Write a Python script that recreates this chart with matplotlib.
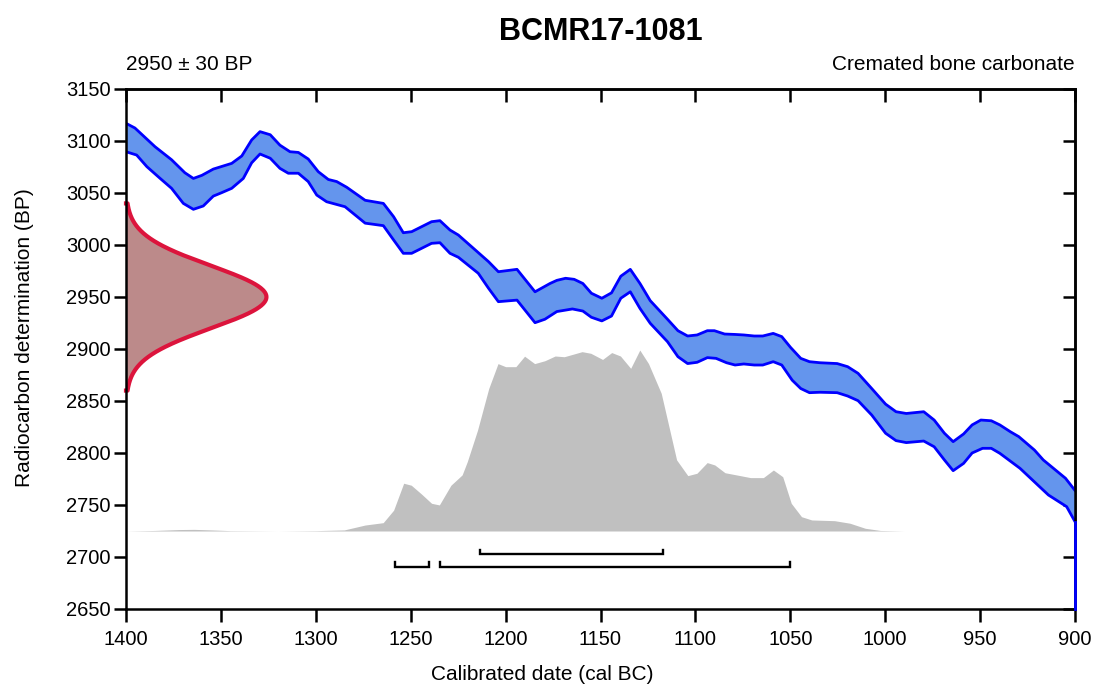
import numpy as np
import matplotlib
matplotlib.use("Agg")
import matplotlib.pyplot as plt

plt.rcParams['font.family'] = ['Liberation Sans', 'DejaVu Sans']

# ---------------- data ----------------
title = "BCMR17-1081"
date_label = "2950 \u00b1 30 BP"
material = "Cremated bone carbonate"
c14_mean = 2950
c14_sigma = 30

# calibration curve envelope (cal BC, BP)
upper_years = [1400, 1395.3, 1384.7, 1376, 1369, 1364.5, 1360, 1354, 1344.3, 1339, 1333.8, 1329.4,
               1324, 1318.9, 1313.6, 1309.2, 1304, 1298.7, 1293.4, 1289, 1283.7, 1274, 1264.4, 1259,
               1253.9, 1249.5, 1239, 1234.6, 1229.3, 1224.9, 1209, 1203.8, 1194, 1184.5, 1176.6, 1173,
               1168.4, 1163.9, 1159.3, 1154.8, 1149.3, 1144.2, 1139.3, 1134.3, 1129.2, 1123.8, 1114.7,
               1109.2, 1104.1, 1099.1, 1093.7, 1090, 1084.6, 1079.1, 1074.5, 1069, 1064.5, 1059, 1054.5,
               1049.9, 1044.5, 1039.9, 1034.4, 1025.3, 1019.8, 1014.3, 1007.1, 999.8, 994.3, 988.9,
               979.7, 974.2, 968.8, 964.2, 958.7, 954.2, 949.6, 944.1, 939.6, 934.1, 929.6, 921.4,
               916.7, 905, 900]
upper_bp = [3117, 3112.5, 3094.5, 3082, 3069.5, 3064, 3067, 3073, 3078.5, 3085.6, 3101, 3109,
            3106, 3096, 3089.7, 3089, 3082.7, 3070.5, 3063, 3061, 3055.5, 3043, 3040, 3027.2,
            3011.8, 3012.8, 3022.4, 3023.4, 3014.4, 3009.6, 2984, 2974.3, 2976.6, 2955, 2963, 2966,
            2968, 2967, 2963, 2953.6, 2948.8, 2954, 2970, 2976.6, 2963, 2946.5, 2928.6,
            2917.6, 2912.5, 2913.5, 2917.6, 2917.6, 2914.4, 2914, 2913.5, 2912.5, 2912.5, 2915, 2911.9,
            2901.6, 2891, 2887.8, 2886.8, 2886, 2883, 2876.6, 2862, 2847, 2839.7, 2838,
            2839.7, 2831.7, 2819, 2810.9, 2818.3, 2827, 2831.7, 2831, 2827, 2820.5, 2815.7, 2802.9,
            2793.3, 2775.7, 2764]

lower_years = [1400, 1394.4, 1389, 1382, 1376, 1369.8, 1364.5, 1359.3, 1354, 1349.6, 1344.3, 1338.2,
               1333.8, 1329.4, 1324, 1318.9, 1314.5, 1309.2, 1304, 1299.5, 1294.3, 1284.6, 1274,
               1264.4, 1259, 1253.9, 1249.5, 1239, 1234.6, 1229.3, 1224.9, 1214.4, 1209, 1203.8, 1194,
               1184.5, 1179.3, 1173, 1164.8, 1159.3, 1154.8, 1149.3, 1144.2, 1139.3, 1134.3, 1129.2,
               1123.8, 1114.7, 1109.2, 1104.1, 1099.1, 1093.7, 1089.1, 1083.6, 1079.1, 1074.5, 1069,
               1064.5, 1059, 1054.5, 1049, 1044.5, 1039.9, 1034.4, 1025.3, 1019.8, 1014.3, 1007.1,
               999.8, 994.3, 988.9, 979.7, 974.2, 968.8, 964.2, 958.7, 954.2, 948.7, 944.1, 939.6,
               929, 914, 904.4, 900]
lower_bp = [3089.7, 3086.5, 3075.3, 3064, 3054.5, 3040, 3034.3, 3037.5, 3047, 3050.3, 3054.5, 3064,
            3079, 3087.5, 3083.4, 3073.7, 3069, 3069, 3061, 3048, 3041.6, 3036.8, 3021,
            3018.6, 3004.8, 2992, 2992, 3001.6, 3002.2, 2992, 2988.2, 2972.8, 2958.4, 2945.5, 2947,
            2925.3, 2928.6, 2936, 2938.5, 2936.5, 2930.5, 2927, 2931.7, 2948.8, 2955, 2939,
            2924.7, 2907, 2892.6, 2886, 2887.2, 2891.7, 2891, 2886.8, 2884.6, 2885.6, 2884.6,
            2884.6, 2887.8, 2884.6, 2870, 2862, 2858, 2858.4, 2858, 2854.8, 2850.3, 2836.5,
            2819, 2811.9, 2810, 2811.5, 2806, 2793.3, 2783, 2790, 2800, 2804.5, 2804.5, 2799.7,
            2785.3, 2759.6, 2748.4, 2734]

# calibrated probability distribution (cal BC, relative probability)
prob_years = [1400, 1385, 1372, 1364, 1355, 1345, 1320, 1300, 1285, 1274, 1264.5, 1259, 1253.7,
              1249.7, 1244.4, 1239, 1234.9, 1228.8, 1222.9, 1220.2, 1214.8, 1208.9, 1204, 1200,
              1194.6, 1190, 1184.7, 1179.3, 1173.9, 1169.1, 1159.7, 1155.1, 1148.9, 1144.1, 1139.5,
              1134.1, 1129.3, 1124.7, 1118, 1109.9, 1104, 1099.2, 1093.8, 1089.8, 1084.4, 1076.4,
              1071, 1064.2, 1058.9, 1054, 1049.5, 1044.1, 1038.7, 1026.7, 1018.6, 1010.5, 1002.5,
              990, 900]
prob_vals = [0.0, 0.003, 0.008, 0.009, 0.006, 0.002, 0.0, 0.002, 0.006, 0.033, 0.046, 0.115, 0.264,
             0.253, 0.205, 0.153, 0.144, 0.253, 0.310, 0.383, 0.557, 0.787, 0.925, 0.908,
             0.908, 0.966, 0.925, 0.941, 0.967, 0.963, 0.991, 0.982, 0.948, 0.986, 0.967,
             0.899, 1.0, 0.925, 0.761, 0.393, 0.306, 0.319, 0.378, 0.365, 0.322, 0.306,
             0.295, 0.295, 0.337, 0.300, 0.153, 0.079, 0.061, 0.057, 0.043, 0.015, 0.003,
             0.0, 0.0]

# highest posterior density ranges (cal BC)
range_68 = [(1213.5, 1116.9)]
range_95 = [(1258.3, 1240.2), (1234.6, 1050.2)]

# ---------------- figure ----------------
W, H = 1093, 686
fig = plt.figure(figsize=(W / 100, H / 100), dpi=100)
L, R, T, B = 126, 1075, 89, 609
ax = fig.add_axes([L / W, 1 - B / H, (R - L) / W, (B - T) / H])

XMIN, XMAX = 1400, 900
YMIN, YMAX = 2650, 3150
ax.set_xlim(XMIN, XMAX)
ax.set_ylim(YMIN, YMAX)

# calibrated distribution
base = 2725
prob_height = 174
py = base + prob_height * np.array(prob_vals)
ax.fill_between(prob_years, base, py, color='#c0c0c0', linewidth=0, zorder=1)

# calibration curve
poly_x = list(upper_years) + list(lower_years[::-1])
poly_y = list(upper_bp) + list(lower_bp[::-1])
ax.fill(poly_x, poly_y, facecolor='#6495ed', edgecolor='none', zorder=2)
ax.plot(upper_years, upper_bp, color='#0000ff', lw=2, zorder=3, solid_joinstyle='round')
ax.plot(lower_years, lower_bp, color='#0000ff', lw=2, zorder=3, solid_joinstyle='round')
ax.plot([lower_years[-1], lower_years[-1]], [lower_bp[-1], YMIN], color='#0000ff', lw=2,
        zorder=9, clip_on=False)

# radiocarbon determination (normal distribution on the y axis)
yy = np.linspace(c14_mean - 3 * c14_sigma, c14_mean + 3 * c14_sigma, 300)
dens = np.exp(-0.5 * ((yy - c14_mean) / c14_sigma) ** 2)
amp = 74
xx = XMIN - amp * dens
ax.fill_betweenx(yy, XMIN, xx, facecolor='#bc8a8a', edgecolor='none', zorder=4)
ax.plot(np.r_[XMIN, xx, XMIN], np.r_[yy[0], yy, yy[-1]], color='#dc143c', lw=3,
        zorder=5, solid_joinstyle='round', clip_on=False)

# ranges
cap = 4.5
def bracket(x0, x1, y):
    ax.plot([x0, x0, x1, x1], [y + cap, y, y, y + cap], color='black', lw=1.7,
            solid_joinstyle='miter', zorder=6)

for a, b in range_68:
    bracket(a, b, 2702.5)
for a, b in range_95:
    bracket(a, b, 2690.5)

# axes styling
xt = np.arange(1400, 899, -50)
yt = np.arange(2650, 3151, 50)
ax.set_xticks(xt)
ax.set_yticks(yt)
for s in ax.spines.values():
    s.set_linewidth(1.8)
    s.set_zorder(7)
ax.tick_params(axis='both', direction='out', length=9, width=1.8, labelsize=14.5,
               top=False, right=False)
ax.tick_params(axis='x', pad=6)
ax.tick_params(axis='y', pad=2)

secx = ax.secondary_xaxis('top')
secx.set_xticks(xt)
secx.set_xticklabels([])
secx.tick_params(direction='in', length=9, width=1.8)
secx.spines['top'].set_linewidth(1.8)

secy = ax.secondary_yaxis('right')
secy.set_yticks(yt)
secy.set_yticklabels([])
secy.tick_params(direction='in', length=9, width=1.8)
secy.spines['right'].set_linewidth(1.8)

# texts
fig.text(601 / W, 1 - 40 / H, title, ha='center', va='baseline', fontsize=22, fontweight='bold')
fig.text(L / W, 1 - 70 / H, date_label, ha='left', va='baseline', fontsize=15)
fig.text(R / W, 1 - 70 / H, material, ha='right', va='baseline', fontsize=15)
fig.text(542 / W, 1 - 675 / H, "Calibrated date (cal BC)", ha='center', va='center', fontsize=15)
fig.text(25 / W, 1 - 338 / H, "Radiocarbon determination (BP)", ha='center', va='center',
         rotation=90, fontsize=15)

fig.savefig("out.png", dpi=100)
